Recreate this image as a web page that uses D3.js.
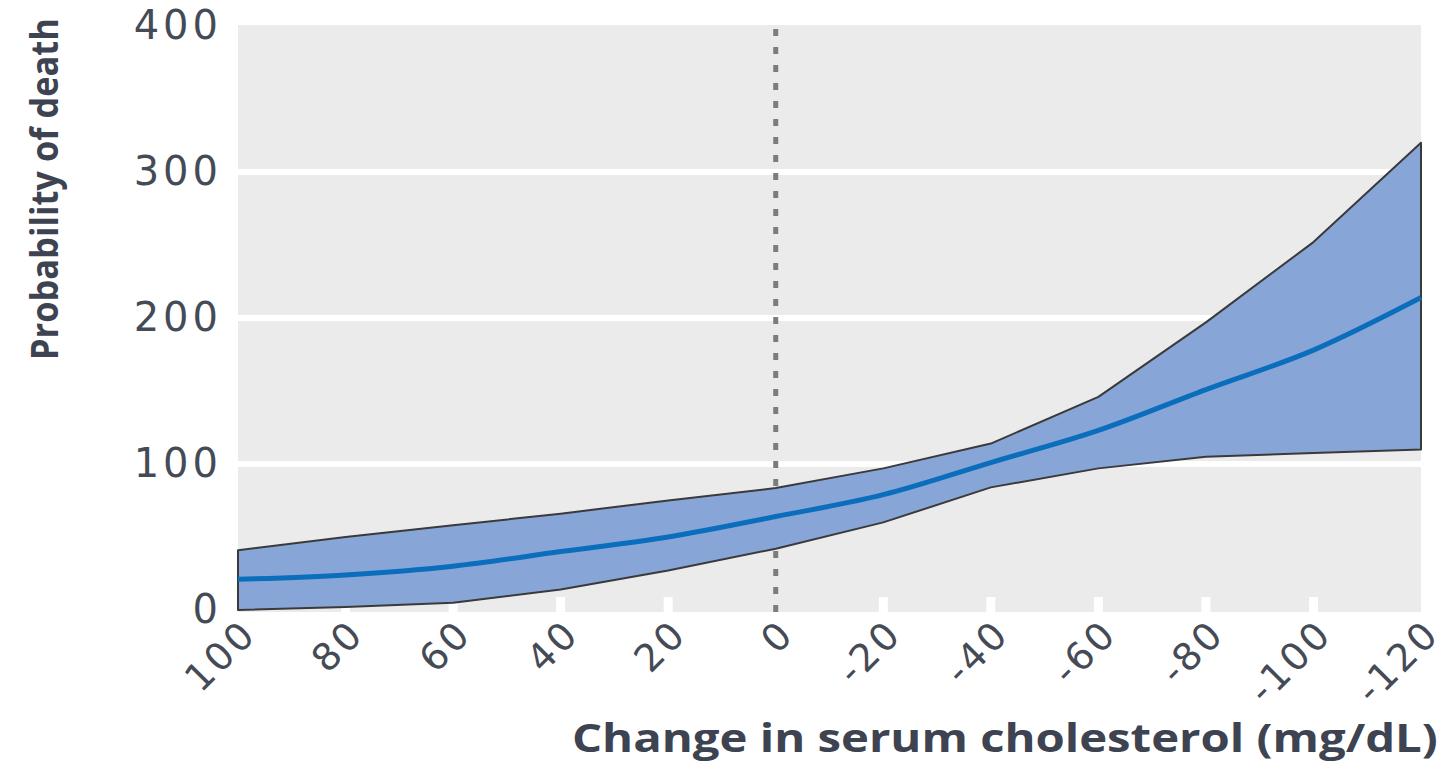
<!DOCTYPE html>
<html>
<head>
<meta charset="utf-8">
<script src="https://cdn.jsdelivr.net/npm/d3@7"></script>
<style>
  html, body { margin: 0; padding: 0; background: #fff; }
  svg { display: block; }
</style>
</head>
<body>
<svg id="chart" width="1451" height="766"></svg>
<script>
// Change in serum cholesterol (mg/dL), plotted from +100 down to -120
const changes = [100, 80, 60, 40, 20, 0, -20, -40, -60, -80, -100, -120];
// Estimated probability of death and its confidence band
const estimate = [21, 24, 30, 40, 50, 64, 79, 101, 123, 151, 178, 214];
const upperBound = [41, 50, 58, 66, 75, 83.5, 97, 114, 146, 197, 252, 320];
const lowerBound = [0, 2, 5, 14, 27, 42, 60, 84, 97, 105, 107.5, 110];
const yTicks = [0, 100, 200, 300, 400];
const gridValues = [100, 200, 300];

const svg = d3.select("#chart");
const panel = { left: 238, right: 1421, top: 25, bottom: 612 };

const x = d3.scaleLinear().domain([100, -120]).range([238, 1421]);
const y = d3.scaleLinear().domain([0, 400]).range([610, 26]);

const data = changes.map((c, i) => ({ c, est: estimate[i], lo: lowerBound[i], hi: upperBound[i] }));

const tickFont = "'DejaVu Sans', sans-serif";
const titleFont = "'Open Sans', sans-serif";

// panel background
svg.append("rect")
  .attr("x", panel.left).attr("y", panel.top)
  .attr("width", panel.right - panel.left).attr("height", panel.bottom - panel.top)
  .attr("fill", "#ebebeb");

// horizontal white gridlines
svg.append("g").selectAll("line").data(gridValues).join("line")
  .attr("x1", panel.left).attr("x2", panel.right)
  .attr("y1", d => y(d)).attr("y2", d => y(d))
  .attr("stroke", "#fff").attr("stroke-width", 6);

// short white ticks along the bottom of the panel
svg.append("g").selectAll("rect").data(changes.filter(c => c !== 0 && c !== 100 && c !== -120)).join("rect")
  .attr("x", d => x(d) - 4.5).attr("y", panel.bottom - 15)
  .attr("width", 9).attr("height", 15)
  .attr("fill", "#fff");

// reference line at zero change
svg.append("line")
  .attr("x1", x(0)).attr("x2", x(0))
  .attr("y1", panel.top + 4).attr("y2", panel.bottom)
  .attr("stroke", "#7c7c7c").attr("stroke-width", 5)
  .attr("stroke-dasharray", "7,11");

// confidence band
const bandPts = data.map(d => [x(d.c), y(d.hi)]).concat(data.slice().reverse().map(d => [x(d.c), y(d.lo)]));
svg.append("path")
  .attr("d", d3.line()(bandPts) + "Z")
  .attr("fill", "#87a6d7")
  .attr("stroke", "#3a3a3a")
  .attr("stroke-width", 2)
  .attr("stroke-linejoin", "round");

// estimated curve
svg.append("path")
  .datum(data)
  .attr("d", d3.line().x(d => x(d.c)).y(d => y(d.est)).curve(d3.curveMonotoneX))
  .attr("fill", "none")
  .attr("stroke", "#0a6ebd")
  .attr("stroke-width", 5);

// y axis labels
const yAxis = svg.append("g").attr("transform", `translate(${panel.left},0)`)
  .call(d3.axisLeft(y).tickValues(yTicks).tickSize(0).tickPadding(16));
yAxis.select(".domain").remove();
yAxis.selectAll("text")
  .attr("font-family", tickFont)
  .attr("font-size", 40)
  .attr("letter-spacing", 4)
  .attr("fill", "#454b56");

// x axis labels, rotated
const xAxis = svg.append("g").attr("transform", `translate(0,${panel.bottom})`)
  .call(d3.axisBottom(x).tickValues(changes).tickSize(0).tickFormat(d3.format("d")));
xAxis.select(".domain").remove();
xAxis.selectAll("text")
  .attr("font-family", tickFont)
  .attr("font-size", 38)
  .attr("letter-spacing", 3)
  .attr("fill", "#454b56")
  .attr("text-anchor", "end")
  .attr("dy", 0)
  .attr("transform", "translate(20,24) rotate(-45)")
  .attr("x", 0).attr("y", 0)
  .text(d => d < 0 ? "-" + Math.abs(d) : String(d));

// axis titles, condensed horizontally to a fixed span
function condensedTitle(label, size, span, place) {
  const t = svg.append("text")
    .attr("text-anchor", "start")
    .attr("font-family", titleFont)
    .attr("font-weight", 700)
    .attr("font-size", size)
    .attr("fill", "#3d4350")
    .text(label);
  const natural = t.node().getComputedTextLength();
  t.attr("transform", place + ` scale(${span / natural},1)`);
  return t;
}

condensedTitle("Change in serum cholesterol (mg/dL)", 40, 866, "translate(572,752)");
condensedTitle("Probability of death", 38, 342, "translate(58,360) rotate(-90)");
</script>
</body>
</html>
